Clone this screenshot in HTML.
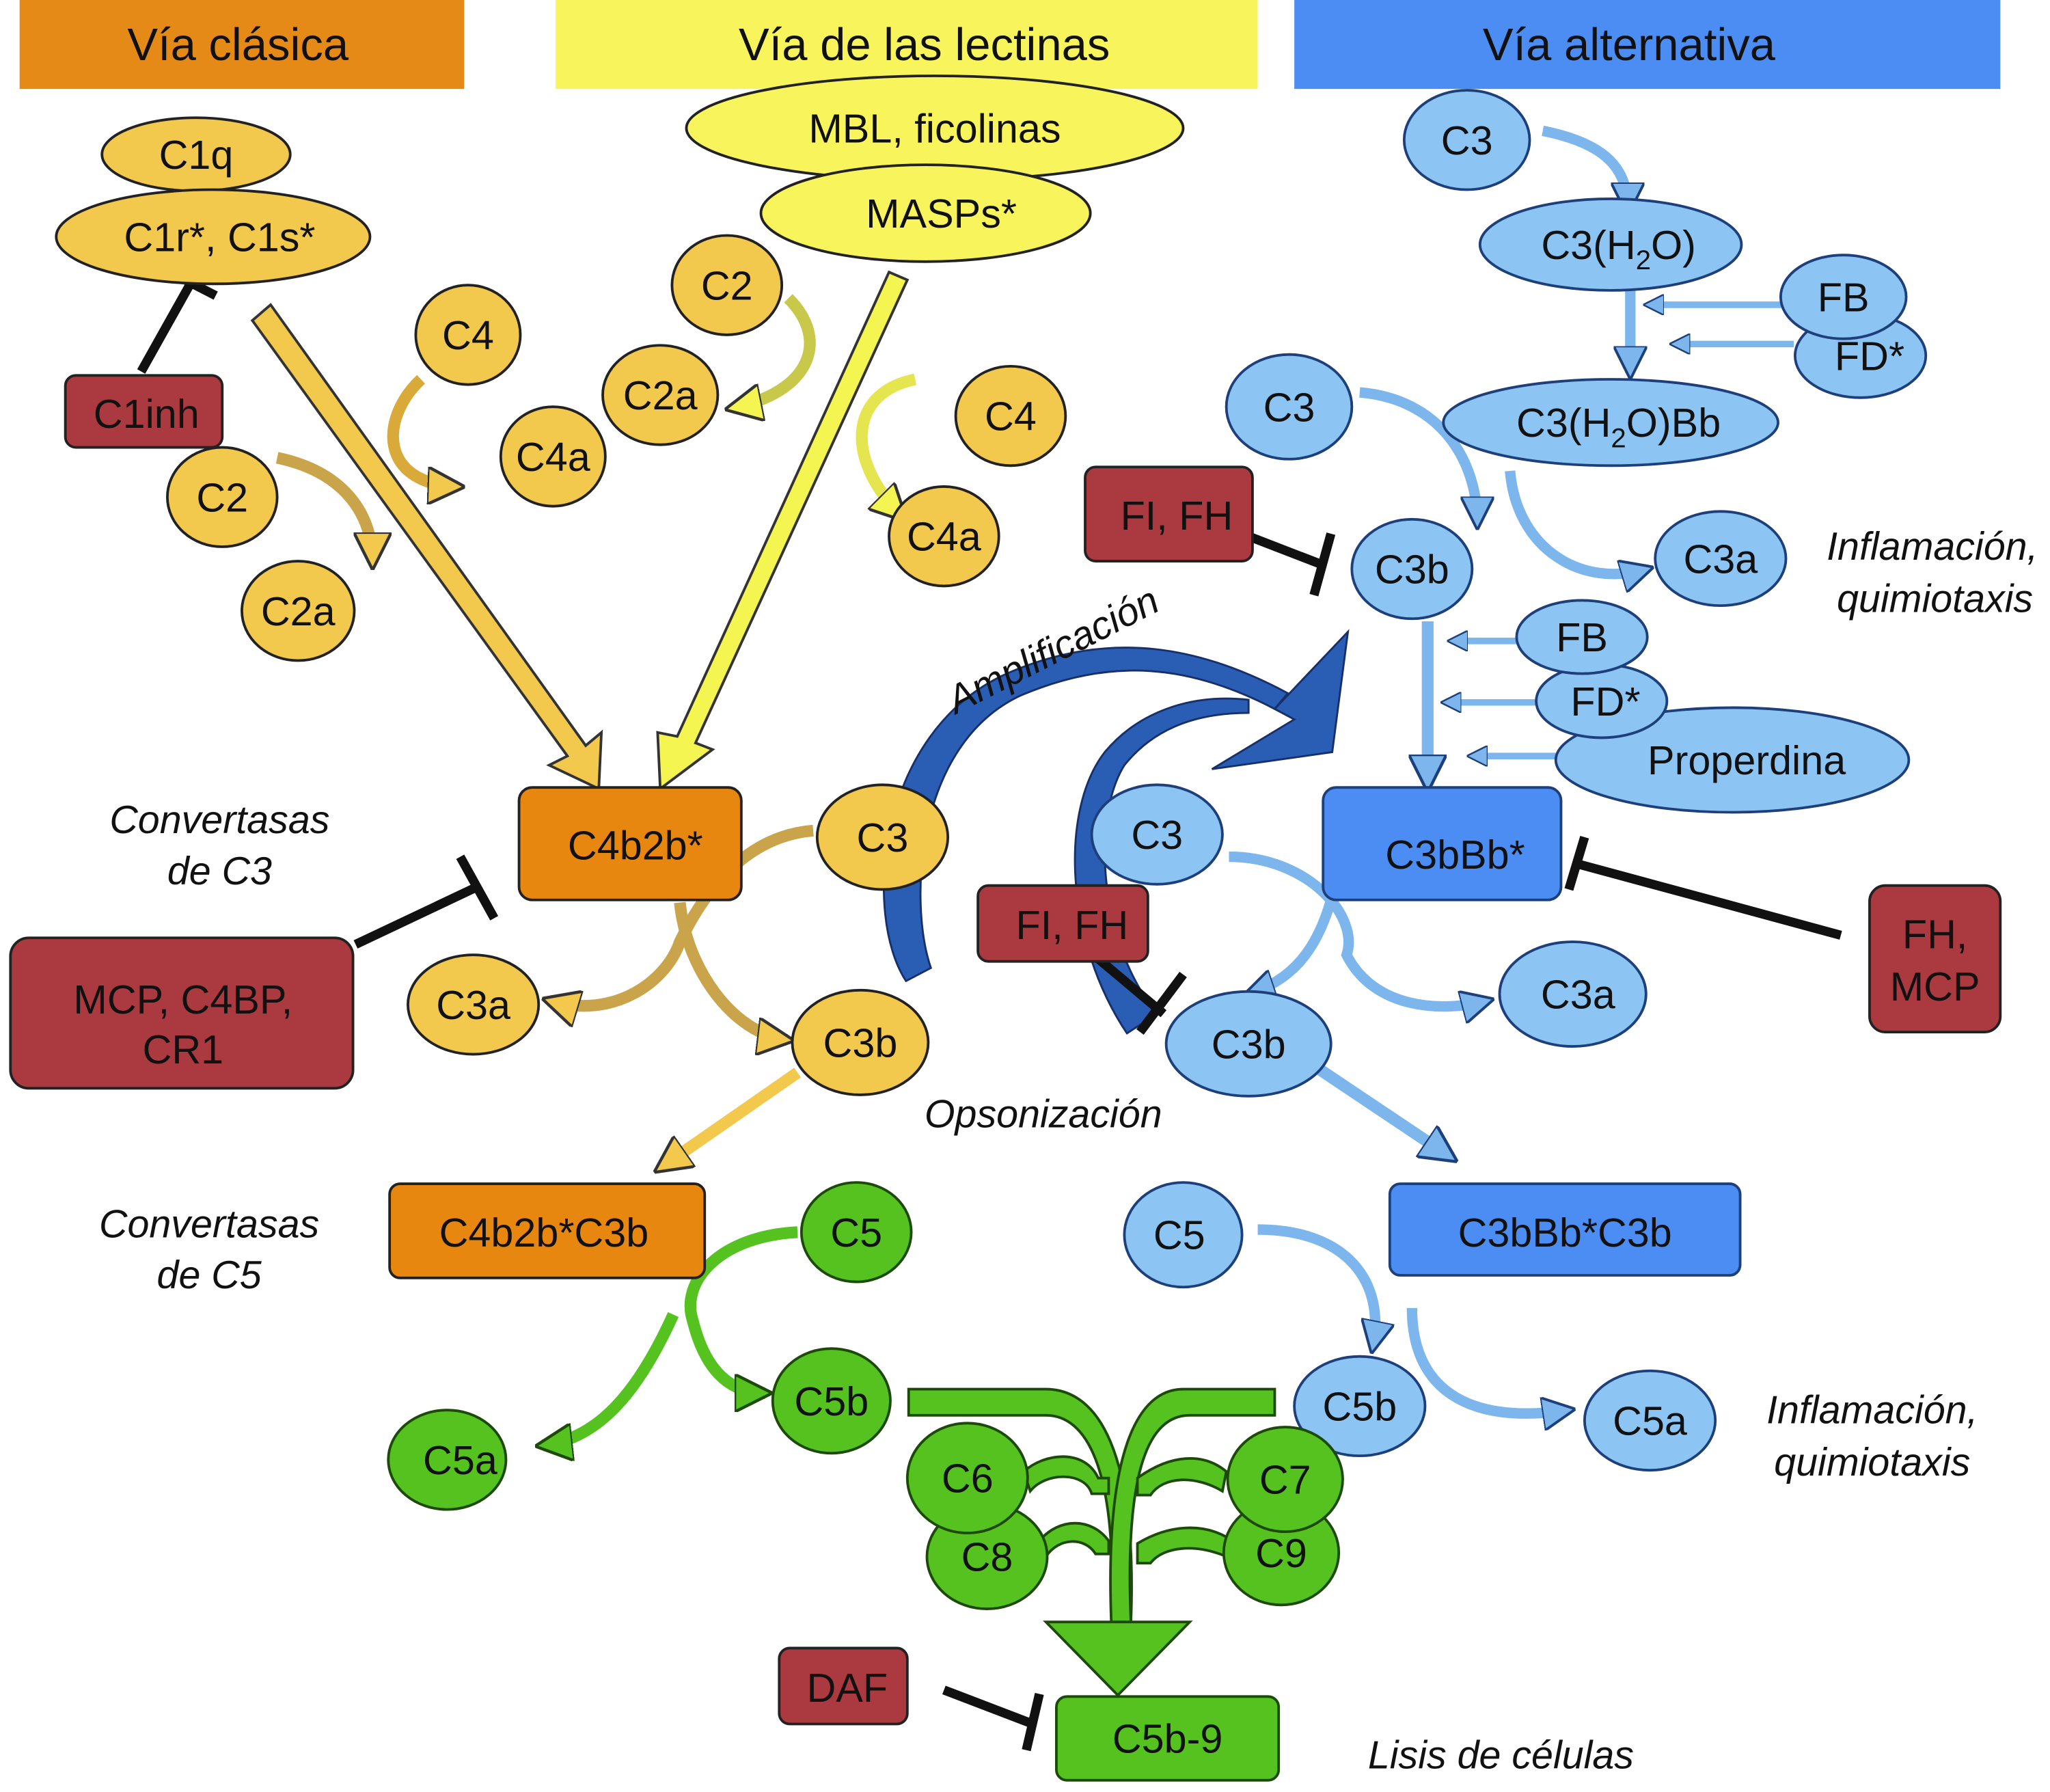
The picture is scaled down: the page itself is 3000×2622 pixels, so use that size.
<!DOCTYPE html>
<html><head><meta charset="utf-8"><style>
html,body{margin:0;padding:0;background:#fff}
svg{display:block}
text{font-family:"Liberation Sans",Arial,sans-serif;fill:#111}
</style></head><body>
<svg width="3000" height="2622" viewBox="0 0 1568 1370" preserveAspectRatio="none" xmlns="http://www.w3.org/2000/svg">
<defs>
<marker id="ya" viewBox="0 0 10 10" refX="8" refY="5" markerWidth="3.2" markerHeight="3.2" orient="auto"><path d="M0,0L10,5L0,10z" fill="#f2c94c" stroke="#333" stroke-width="0.8"/></marker>
<marker id="yy" viewBox="0 0 10 10" refX="8" refY="5" markerWidth="3.2" markerHeight="3.2" orient="auto"><path d="M0,0L10,5L0,10z" fill="#f5f552" stroke="#333" stroke-width="0.8"/></marker>
<marker id="ba" viewBox="0 0 10 10" refX="8" refY="5" markerWidth="3.2" markerHeight="3.2" orient="auto"><path d="M0,0L10,5L0,10z" fill="#7db6ec" stroke="#1d3f7a" stroke-width="0.8"/></marker>
<marker id="ga" viewBox="0 0 10 10" refX="8" refY="5" markerWidth="3.2" markerHeight="3.2" orient="auto"><path d="M0,0L10,5L0,10z" fill="#55c21f" stroke="#1d4a08" stroke-width="0.8"/></marker>
</defs>

<rect x="15" y="0" width="340" height="68" fill="#e58a17"/>
<rect x="425" y="0" width="537" height="68" fill="#f8f55c"/>
<rect x="990" y="0" width="540" height="68" fill="#4b8df2"/>
<g font-size="35" text-anchor="middle">
<text x="182" y="46">Vía clásica</text>
<text x="707" y="46">Vía de las lectinas</text>
<text x="1246" y="46">Vía alternativa</text>
</g>

<g stroke="#333" stroke-width="2">
<polygon points="193,245 207,233 448,570 460,560 458,603 420,585 434,578" fill="#f2c94c"/>
<polygon points="680,208 694,214 532,568 545,573 505,603 503,560 518,563" fill="#f5f552"/>
</g>

<g fill="none" stroke-width="9" stroke-linecap="butt">
<path d="M322,290 C290,320 290,370 350,372" stroke="#d9a93a" marker-end="url(#ya)"/>
<path d="M212,350 C260,360 285,390 285,430" stroke="#c9a44a" marker-end="url(#ya)"/>
<path d="M603,228 C635,260 620,300 560,312" stroke="#c8c84a" marker-end="url(#yy)"/>
<path d="M700,290 C650,300 645,350 690,395" stroke="#e5e550" marker-end="url(#yy)"/>
<path d="M622,635 C560,640 530,700 520,720 C510,750 470,780 420,765" stroke="#c9a44a" marker-end="url(#ya)"/>
<path d="M520,690 C525,740 560,790 602,795" stroke="#c9a44a" marker-end="url(#ya)"/>
<path d="M610,820 L505,893" stroke="#f2c94c" marker-end="url(#ya)"/>
</g>

<g fill="#2a5db4" stroke="#17306a" stroke-width="1.5">
<path d="M693,750 C660,700 670,560 770,515 C850,480 920,495 985,530 L975,542 C910,508 850,502 780,532 C700,570 695,690 712,740 Z"/>
<path d="M862,790 C815,720 810,620 845,575 C870,545 910,530 955,535 L955,545 C910,545 880,560 860,585 C835,625 840,720 885,775 Z"/>
<polygon points="1031,483 1019,575 927,588 990,550 975,542"/>
</g>

<g fill="none" stroke-width="8">
<path d="M1180,100 C1230,110 1245,130 1245,160" stroke="#7db6ec" marker-end="url(#ba)"/>
<path d="M1247,222 L1247,285" stroke="#7db6ec" marker-end="url(#ba)"/>
<path d="M1365,233 L1260,233" stroke="#7db6ec" stroke-width="5" marker-end="url(#ba)"/>
<path d="M1372,263 L1280,263" stroke="#7db6ec" stroke-width="5" marker-end="url(#ba)"/>
<path d="M1040,300 C1100,305 1130,350 1130,400" stroke="#7db6ec" marker-end="url(#ba)"/>
<path d="M1155,360 C1160,420 1210,450 1260,435" stroke="#7db6ec" marker-end="url(#ba)"/>
<path d="M1092,475 L1092,600" stroke="#7db6ec" stroke-width="9" marker-end="url(#ba)"/>
<path d="M1162,490 L1110,490" stroke="#7db6ec" stroke-width="5" marker-end="url(#ba)"/>
<path d="M1177,537 L1105,537" stroke="#7db6ec" stroke-width="5" marker-end="url(#ba)"/>
<path d="M1190,578 L1125,578" stroke="#7db6ec" stroke-width="5" marker-end="url(#ba)"/>
<path d="M940,655 C1000,655 1040,700 1030,730 C1050,770 1100,775 1138,765" stroke="#7db6ec" marker-end="url(#ba)"/>
<path d="M1022,672 C1010,730 985,750 955,760" stroke="#7db6ec" marker-end="url(#ba)"/>
<path d="M1010,818 L1110,885" stroke="#7db6ec" stroke-width="9" marker-end="url(#ba)"/>
<path d="M962,940 C1030,940 1060,980 1050,1030" stroke="#7db6ec" marker-end="url(#ba)"/>
<path d="M1080,1000 C1080,1060 1120,1090 1200,1078" stroke="#7db6ec" marker-end="url(#ba)"/>
</g>

<g fill="none" stroke-width="9">
<path d="M610,942 C550,945 520,980 530,1010 C540,1050 560,1065 585,1065" stroke="#55c21f" marker-end="url(#ga)"/>
<path d="M515,1005 C490,1060 460,1100 415,1105" stroke="#55c21f" marker-end="url(#ga)"/>
</g>
<g fill="#55c21f" stroke="#1d4a08" stroke-width="2">
<path d="M695,1062 L800,1062 C840,1062 870,1110 865,1240 L850,1240 C855,1120 830,1082 800,1082 L695,1082 Z"/>
<path d="M975,1062 L905,1062 C870,1062 845,1110 850,1240 L865,1240 C860,1120 880,1082 910,1082 L975,1082 Z"/>
<path d="M783,1125 C800,1110 830,1108 840,1130 L848,1130 L848,1142 L835,1142 C830,1125 800,1125 788,1140 Z"/>
<path d="M795,1178 C810,1160 835,1160 848,1178 L848,1188 L838,1188 C830,1175 810,1175 800,1190 Z"/>
<path d="M938,1125 C920,1110 895,1112 870,1130 L870,1143 L880,1143 C890,1128 915,1128 935,1140 Z"/>
<path d="M938,1175 C920,1165 895,1165 870,1180 L870,1195 L880,1195 C890,1182 915,1180 938,1190 Z"/>
<polygon points="800,1240 910,1240 855,1296"/>
</g>

<g stroke="#111" stroke-width="7" fill="none">
<path d="M108,284 L145,218 M128,207 L165,226"/>
<path d="M272,722 L365,678 M352,655 L378,702"/>
<path d="M955,410 L1012,432 M1018,408 L1005,455"/>
<path d="M840,733 L890,775 M872,789 L905,745"/>
<path d="M1408,715 L1205,660 M1212,640 L1200,680"/>
<path d="M722,1292 L790,1318 M795,1295 L785,1338"/>
</g>

<g fill="#f2c94c" stroke="#222" stroke-width="2">
<ellipse cx="150" cy="118" rx="72" ry="28"/>
<ellipse cx="163" cy="181" rx="120" ry="36"/>
<ellipse cx="358" cy="256" rx="40" ry="38"/>
<ellipse cx="170" cy="380" rx="42" ry="38"/>
<ellipse cx="228" cy="467" rx="43" ry="38"/>
<ellipse cx="423" cy="349" rx="40" ry="38"/>
<ellipse cx="556" cy="218" rx="42" ry="38"/>
<ellipse cx="505" cy="302" rx="44" ry="38"/>
<ellipse cx="773" cy="318" rx="42" ry="38"/>
<ellipse cx="722" cy="410" rx="42" ry="38"/>
<ellipse cx="675" cy="640" rx="50" ry="40"/>
<ellipse cx="362" cy="768" rx="50" ry="38"/>
<ellipse cx="658" cy="797" rx="52" ry="40"/>
</g>
<g fill="#f8f55c" stroke="#222" stroke-width="2">
<ellipse cx="715" cy="98" rx="190" ry="40"/>
<ellipse cx="708" cy="163" rx="126" ry="37"/>
</g>

<g fill="#e8870f" stroke="#222" stroke-width="2">
<rect x="397" y="602" width="170" height="86" rx="10"/>
<rect x="298" y="905" width="241" height="72" rx="8"/>
</g>

<g fill="#ab3a40" stroke="#222" stroke-width="2">
<rect x="50" y="287" width="120" height="55" rx="8"/>
<rect x="8" y="717" width="262" height="115" rx="14"/>
<rect x="830" y="357" width="128" height="72" rx="8"/>
<rect x="748" y="677" width="130" height="58" rx="8"/>
<rect x="1430" y="677" width="100" height="112" rx="12"/>
<rect x="596" y="1260" width="98" height="58" rx="8"/>
</g>

<g fill="#8cc4f3" stroke="#1d3f7a" stroke-width="2">
<ellipse cx="1122" cy="107" rx="48" ry="38"/>
<ellipse cx="1232" cy="187" rx="100" ry="35"/>
<ellipse cx="1423" cy="272" rx="50" ry="32"/>
<ellipse cx="1410" cy="227" rx="48" ry="32"/>
<ellipse cx="1232" cy="323" rx="128" ry="33"/>
<ellipse cx="986" cy="311" rx="48" ry="40"/>
<ellipse cx="1080" cy="435" rx="46" ry="38"/>
<ellipse cx="1316" cy="427" rx="50" ry="36"/>
<ellipse cx="1325" cy="581" rx="135" ry="40"/>
<ellipse cx="1225" cy="536" rx="50" ry="28"/>
<ellipse cx="1210" cy="487" rx="50" ry="28"/>
<ellipse cx="885" cy="638" rx="50" ry="38"/>
<ellipse cx="955" cy="798" rx="63" ry="40"/>
<ellipse cx="1203" cy="760" rx="56" ry="40"/>
<ellipse cx="905" cy="944" rx="45" ry="40"/>
<ellipse cx="1040" cy="1075" rx="50" ry="38"/>
<ellipse cx="1262" cy="1086" rx="50" ry="38"/>
</g>

<g fill="#4b8df2" stroke="#1d3f7a" stroke-width="2">
<rect x="1012" y="602" width="182" height="86" rx="10"/>
<rect x="1063" y="905" width="268" height="70" rx="8"/>
</g>

<g fill="#55c21f" stroke="#1d4a08" stroke-width="2">
<ellipse cx="655" cy="942" rx="42" ry="38"/>
<ellipse cx="636" cy="1071" rx="45" ry="40"/>
<ellipse cx="342" cy="1116" rx="45" ry="38"/>
<ellipse cx="755" cy="1190" rx="46" ry="40"/>
<ellipse cx="740" cy="1130" rx="46" ry="42"/>
<ellipse cx="980" cy="1187" rx="44" ry="40"/>
<ellipse cx="983" cy="1131" rx="44" ry="40"/>
<rect x="808" y="1297" width="170" height="64" rx="8"/>
</g>

<g font-size="31" text-anchor="middle">
<text x="150" y="129">C1q</text>
<text x="168" y="192">C1r*, C1s*</text>
<text x="358" y="267">C4</text>
<text x="112" y="327">C1inh</text>
<text x="170" y="391">C2</text>
<text x="228" y="478">C2a</text>
<text x="423" y="360">C4a</text>
<text x="556" y="229">C2</text>
<text x="505" y="313">C2a</text>
<text x="773" y="329">C4</text>
<text x="722" y="421">C4a</text>
<text x="715" y="109">MBL, ficolinas</text>
<text x="720" y="174">MASPs*</text>
<text x="486" y="657">C4b2b*</text>
<text x="675" y="651">C3</text>
<text x="362" y="779">C3a</text>
<text x="658" y="808">C3b</text>
<text x="140" y="775">MCP, C4BP,</text>
<text x="140" y="813">CR1</text>
<text x="416" y="953">C4b2b*C3b</text>
<text x="655" y="953">C5</text>
<text x="636" y="1082">C5b</text>
<text x="352" y="1127">C5a</text>
<text x="740" y="1141">C6</text>
<text x="755" y="1201">C8</text>
<text x="983" y="1142">C7</text>
<text x="980" y="1198">C9</text>
<text x="893" y="1340">C5b-9</text>
<text x="648" y="1301">DAF</text>
<text x="1122" y="118">C3</text>
<text x="1238" y="198">C3(H<tspan font-size="21" dy="8">2</tspan><tspan dy="-8">O)</tspan></text>
<text x="1410" y="238">FB</text>
<text x="1430" y="283">FD*</text>
<text x="1238" y="334">C3(H<tspan font-size="21" dy="8">2</tspan><tspan dy="-8">O)Bb</tspan></text>
<text x="986" y="322">C3</text>
<text x="900" y="405">FI, FH</text>
<text x="1080" y="446">C3b</text>
<text x="1316" y="438">C3a</text>
<text x="1210" y="498">FB</text>
<text x="1228" y="547">FD*</text>
<text x="1336" y="592">Properdina</text>
<text x="1113" y="664">C3bBb*</text>
<text x="885" y="649">C3</text>
<text x="820" y="718">FI, FH</text>
<text x="1480" y="725">FH,</text>
<text x="1480" y="765">MCP</text>
<text x="955" y="809">C3b</text>
<text x="1207" y="771">C3a</text>
<text x="1197" y="953">C3bBb*C3b</text>
<text x="902" y="955">C5</text>
<text x="1040" y="1086">C5b</text>
<text x="1262" y="1097">C5a</text>
</g>

<g font-size="30" text-anchor="middle" font-style="italic">
<text x="168" y="637">Convertasas</text>
<text x="168" y="676">de C3</text>
<text x="160" y="946">Convertasas</text>
<text x="160" y="985">de C5</text>
<text x="798" y="862">Opsonización</text>
<text x="1478" y="428">Inflamación,</text>
<text x="1480" y="468">quimiotaxis</text>
<text x="1432" y="1088">Inflamación,</text>
<text x="1432" y="1128">quimiotaxis</text>
<text x="1148" y="1352">Lisis de células</text>
<text x="810" y="506" transform="rotate(-27 810 506)">Amplificación</text>
</g>
</svg>
</body></html>
